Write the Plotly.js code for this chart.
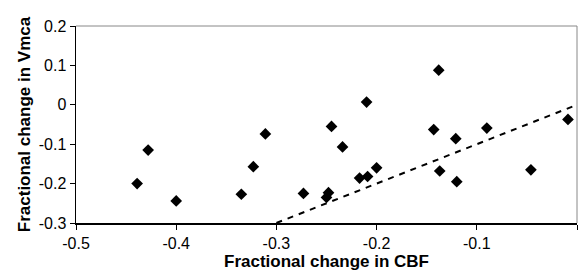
<!DOCTYPE html>
<html>
<head>
<meta charset="utf-8">
<script src="https://cdn.plot.ly/plotly-3.0.1.min.js"></script>
<style>html,body{margin:0;padding:0;background:#fff;}#chart{width:581px;height:273px;}</style>
</head>
<body>
<div id="chart"></div>
<script>
const cbf = [-0.439, -0.428, -0.400, -0.335, -0.323, -0.311, -0.273, -0.250, -0.248, -0.245, -0.234, -0.217, -0.209, -0.210, -0.200, -0.143, -0.138, -0.137, -0.121, -0.120, -0.090, -0.046, -0.009];
const vmca = [-0.200, -0.115, -0.244, -0.227, -0.157, -0.074, -0.225, -0.235, -0.223, -0.055, -0.107, -0.186, -0.182, 0.007, -0.160, -0.063, 0.088, -0.168, -0.086, -0.195, -0.059, -0.165, -0.037];
const lineX = [-0.3, 0];
const lineY = [-0.3, 0];
const xTicks = [-0.5, -0.4, -0.3, -0.2, -0.1, 0];
const xTickText = ['-0.5', '-0.4', '-0.3', '-0.2', '-0.1', '0'];
const yTicks = [-0.3, -0.2, -0.1, 0, 0.1, 0.2];
const yTickText = ['-0.3', '-0.2', '-0.1', '0', '0.1', '0.2'];

const traces = [
  {x: lineX, y: lineY, mode: 'lines', line: {color: '#000', width: 2, dash: '6px,6px'}, hoverinfo: 'skip'},
  {x: cbf, y: vmca, mode: 'markers', marker: {symbol: 'diamond', size: 9, color: '#000'}}
];
const layout = {
  width: 581, height: 273,
  margin: {l: 76, r: 4, t: 26, b: 50},
  showlegend: false,
  paper_bgcolor: '#fff', plot_bgcolor: '#fff',
  font: {family: 'Liberation Sans, Arial, sans-serif', color: '#000'},
  xaxis: {range: [-0.5, 0], tickvals: xTicks, ticktext: xTickText, ticks: 'outside', ticklen: 5, tickcolor: '#000',
    showgrid: false, zeroline: false, showline: true, linecolor: '#000', linewidth: 1.5,
    tickfont: {size: 16}, title: {text: 'Fractional change in CBF', font: {size: 17, weight: 'bold'}, standoff: 4}},
  yaxis: {range: [-0.3, 0.2], tickvals: yTicks, ticktext: yTickText, ticks: 'outside', ticklen: 5, tickcolor: '#000',
    showgrid: false, zeroline: false, showline: true, linecolor: '#000', linewidth: 1.5,
    tickfont: {size: 16}, title: {text: 'Fractional change in Vmca', font: {size: 17, weight: 'bold'}, standoff: 4}},
  shapes: [
    {type: 'line', xref: 'paper', yref: 'paper', x0: 0, x1: 1, y0: 1, y1: 1, line: {color: '#888', width: 1}},
    {type: 'line', xref: 'paper', yref: 'paper', x0: 1, x1: 1, y0: 0, y1: 1, line: {color: '#888', width: 1}}
  ]
};
Plotly.newPlot('chart', traces, layout, {displayModeBar: false, staticPlot: true});
</script>
</body>
</html>
